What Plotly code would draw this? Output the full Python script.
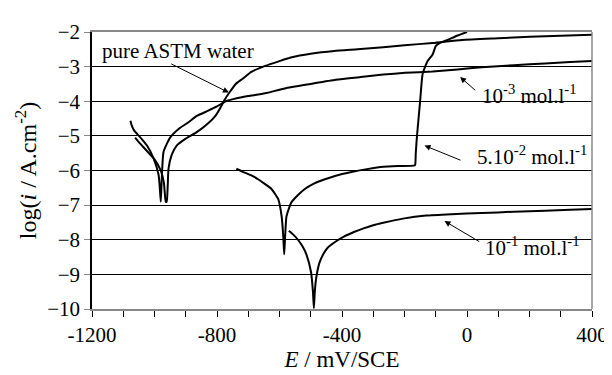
import plotly.graph_objects as go

# ---- data (E in mV/SCE, log i in A.cm-2) ----
water_E = [-1062, -1050, -1030, -1000, -980, -970, -964, -961, -958, -955, -945, -929,
           -900, -866, -830, -805, -790, -775, -762, -740, -718, -690, -646, -600,
           -561, -500, -425, -350, -268, -200, -110, -16, 100, 200, 300, 400]
water_L = [-5.05, -5.18, -5.38, -5.68, -6.0, -6.35, -6.9, -6.9, -6.5, -5.94, -5.55, -5.28,
           -5.08, -4.9, -4.65, -4.42, -4.2, -3.95, -3.77, -3.5, -3.35, -3.15, -2.98, -2.84,
           -2.73, -2.63, -2.55, -2.5, -2.44, -2.38, -2.32, -2.23, -2.18, -2.14, -2.11, -2.08]

m3_E = [-1077, -1072, -1065, -1055, -1040, -1024, -1003, -987, -983, -980, -977, -971,
        -950, -920, -890, -866, -830, -800, -772, -740, -700, -646, -583, -500, -420,
        -340, -268, -198, -110, -30, 47, 150, 250, 330, 400]
m3_L = [-4.56, -4.72, -4.85, -4.95, -5.1, -5.28, -5.65, -6.12, -6.5, -6.9, -6.3, -5.46,
        -5.05, -4.78, -4.6, -4.43, -4.28, -4.15, -4.0, -3.92, -3.85, -3.77, -3.63, -3.5, -3.38,
        -3.3, -3.23, -3.18, -3.14, -3.08, -3.02, -2.96, -2.91, -2.87, -2.84]

m5_E = [-738, -719, -690, -667, -645, -625, -604, -593, -588, -585, -582, -578, -570,
        -562, -540, -520, -490, -457, -420, -373, -320, -268, -220, -170, -166, -164,
        -160, -150, -142, -126, -110, -100, -89, -60, -30, 0]
m5_L = [-5.95, -6.03, -6.14, -6.26, -6.4, -6.54, -6.83, -7.34, -7.9, -8.42, -7.9, -7.34, -7.1,
        -6.92, -6.7, -6.54, -6.38, -6.26, -6.15, -6.05, -5.96, -5.89, -5.87, -5.86, -5.84, -5.5,
        -5.0, -4.0, -3.21, -2.84, -2.65, -2.41, -2.33, -2.22, -2.1, -2.0]

m1_E = [-570, -555, -541, -527, -514, -499, -493, -490, -487, -483, -472, -460, -446,
        -420, -394, -360, -331, -300, -268, -205, -131, -50, 47, 150, 250, 330, 400]
m1_L = [-7.74, -7.86, -8.0, -8.18, -8.42, -8.94, -9.5, -9.97, -9.5, -9.13, -8.66, -8.42, -8.23,
        -8.05, -7.91, -7.77, -7.67, -7.58, -7.51, -7.39, -7.3, -7.26, -7.23, -7.19, -7.16, -7.13, -7.11]

x_ticks = list(range(-1200, 401, 100))
x_labels = [str(v) if v % 400 == 0 else "" for v in x_ticks]
y_ticks = list(range(-10, -1, 1))

FONT = "Times New Roman, Liberation Serif, DejaVu Serif, serif"

fig = go.Figure()
for E, L in [(water_E, water_L), (m3_E, m3_L), (m5_E, m5_L), (m1_E, m1_L)]:
    fig.add_trace(go.Scatter(x=E, y=L, mode="lines",
                             line=dict(color="black", width=2, shape="spline", smoothing=0.5),
                             showlegend=False, hoverinfo="skip"))

# (text, text x, text y, arrow tail x, tail y, arrow head x, head y)
annots = [
    ("pure ASTM water", -1175, -2.54, -951, -2.9, -762, -3.75),
    ("10<sup>-3</sup> mol.l<sup>-1</sup>", 40, -3.8, 31, -3.72, -22, -3.3),
    ("5.10<sup>-2</sup> mol.l<sup>-1</sup>", 26, -5.58, -16, -5.72, -136, -5.28),
    ("10<sup>-1</sup> mol.l<sup>-1</sup>", 52, -8.2, 44, -8.08, -72, -7.46),
]
for text, tx, ty, ax0, ay0, ax1, ay1 in annots:
    fig.add_annotation(x=tx, y=ty, text=text, showarrow=False, xanchor="left", yanchor="middle",
                       font=dict(family=FONT, size=21, color="black"))
    fig.add_annotation(x=ax1, y=ay1, ax=ax0, ay=ay0, xref="x", yref="y", axref="x", ayref="y",
                       text="", showarrow=True, arrowhead=2, arrowsize=1.2, arrowwidth=1,
                       arrowcolor="black")

# right border (gray)
fig.add_shape(type="line", xref="paper", yref="paper", x0=1, x1=1, y0=0, y1=1,
              line=dict(color="#888888", width=1.5))

fig.update_layout(
    width=612, height=375,
    margin=dict(l=84, r=19, t=17, b=74),
    plot_bgcolor="white", paper_bgcolor="white",
    font=dict(family=FONT, size=21, color="black"),
    xaxis=dict(range=[-1200, 400], tickvals=x_ticks, ticktext=x_labels,
               ticks="outside", ticklen=6, tickcolor="black", tickwidth=1,
               tickfont=dict(family=FONT, size=21),
               showgrid=False, zeroline=False, showline=True, linecolor="#888888",
               linewidth=1.5, mirror=True,
               title=dict(text="<i>E</i> / mV/SCE", font=dict(family=FONT, size=23), standoff=4)),
    yaxis=dict(range=[-10, -2], tickvals=y_ticks + [-2], ticks="outside", ticklen=6,
               tickcolor="#888888", tickfont=dict(family=FONT, size=21),
               showgrid=True, gridcolor="black", gridwidth=1,
               zeroline=False, showline=True, linecolor="black", linewidth=1.5,
               title=dict(text="log(<i>i</i> / A.cm<sup>-2</sup>)", font=dict(family=FONT, size=24),
                          standoff=4)),
)

fig.write_html("out.html")
